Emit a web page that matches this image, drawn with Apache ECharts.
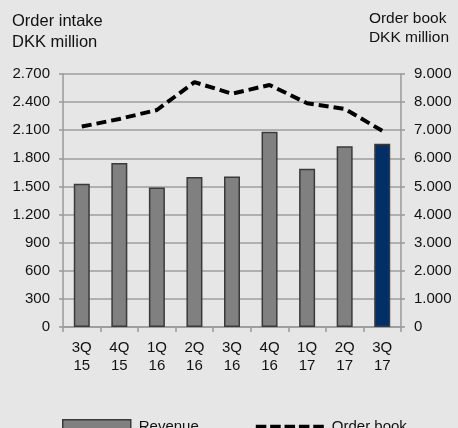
<!DOCTYPE html>
<html><head><meta charset="utf-8">
<script src="https://cdn.jsdelivr.net/npm/echarts@6/dist/echarts.min.js"></script>
<style>html,body{margin:0;padding:0;background:#e6e6e6;}#c{width:458px;height:428px;}</style>
</head><body><div id="c"></div>
<script>
var categories = ['3Q\n15','4Q\n15','1Q\n16','2Q\n16','3Q\n16','4Q\n16','1Q\n17','2Q\n17','3Q\n17'];
var revenue = [1530, 1750, 1490, 1600, 1605, 2085, 1690, 1930, 1955];
var orderBook = [7130, 7400, 7720, 8710, 8300, 8610, 7960, 7760, 6980];
var leftTicks = {min: 0, max: 2700, interval: 300};
var rightTicks = {min: 0, max: 9000, interval: 1000};

function fmt(v){ return String(v).replace(/\B(?=(\d{3})+(?!\d))/g, '.'); }

var chart = echarts.init(document.getElementById('c'));
var font = 'Liberation Sans, Arial, sans-serif';
var dashIcon = 'path://M0,5h11v4h-11zM15,5h11v4h-11zM30,5h11v4h-11zM45,5h11v4h-11zM60,5h11v4h-11zM0,0h0.01v0.01zM71,14h-0.01v-0.01z';
chart.setOption({
  backgroundColor: '#e6e6e6',
  animation: false,
  textStyle: {fontFamily: font},
  graphic: [
    {type: 'text', left: 12, top: 11, style: {text: 'Order intake\nDKK million', font: '16.5px ' + font, fill: '#111', lineHeight: 21, align: 'left'}},
    {type: 'text', right: 9, top: 9, style: {text: 'Order book\nDKK million', font: '15.5px ' + font, fill: '#111', lineHeight: 19, align: 'right'}}
  ],
  grid: {left: 63, right: 57, top: 74, bottom: 101},
  legend: {
    top: 419, left: 62, itemGap: 57, itemWidth: 68, itemHeight: 14, padding: 0,
    textStyle: {fontSize: 15, color: '#111', fontFamily: font, padding: [0, 0, 0, 3]},
    data: [
      {name: 'Revenue', icon: 'rect', itemStyle: {color: '#808080', borderColor: '#3a3a3a', borderWidth: 1.5}},
      {name: 'Order book', icon: dashIcon, itemStyle: {color: '#000', borderWidth: 0}}
    ]
  },
  xAxis: {
    type: 'category', data: categories,
    axisLine: {lineStyle: {color: '#999', width: 1.5}},
    axisTick: {show: true, length: 5, lineStyle: {color: '#999', width: 1.5}},
    axisLabel: {color: '#111', fontSize: 15, lineHeight: 18, margin: 12, fontFamily: font}
  },
  yAxis: [
    {type: 'value', min: leftTicks.min, max: leftTicks.max, interval: leftTicks.interval,
     axisLine: {show: true, lineStyle: {color: '#999', width: 1.5}},
     axisTick: {show: true, length: 4, lineStyle: {color: '#999', width: 1.5}},
     splitLine: {lineStyle: {color: '#9e9e9e', width: 1.5}},
     axisLabel: {color: '#111', fontSize: 15, margin: 13, formatter: fmt, fontFamily: font}},
    {type: 'value', min: rightTicks.min, max: rightTicks.max, interval: rightTicks.interval, position: 'right',
     axisLine: {show: true, lineStyle: {color: '#999', width: 1.5}},
     axisTick: {show: true, length: 4, lineStyle: {color: '#999', width: 1.5}},
     splitLine: {show: false},
     axisLabel: {color: '#111', fontSize: 15, margin: 13, formatter: fmt, fontFamily: font}}
  ],
  series: [
    {name: 'Revenue', type: 'bar', yAxisIndex: 0, barWidth: 16,
     itemStyle: {color: '#808080', borderColor: '#3a3a3a', borderWidth: 1.5},
     data: revenue.map(function(v, i){ return i === revenue.length - 1 ? {value: v, itemStyle: {color: '#012f66'}} : v; })},
    {name: 'Order book', type: 'line', yAxisIndex: 1, symbol: 'none',
     lineStyle: {color: '#000', width: 4, type: [10, 5]},
     itemStyle: {color: '#000'},
     data: orderBook}
  ]
});
</script></body></html>
